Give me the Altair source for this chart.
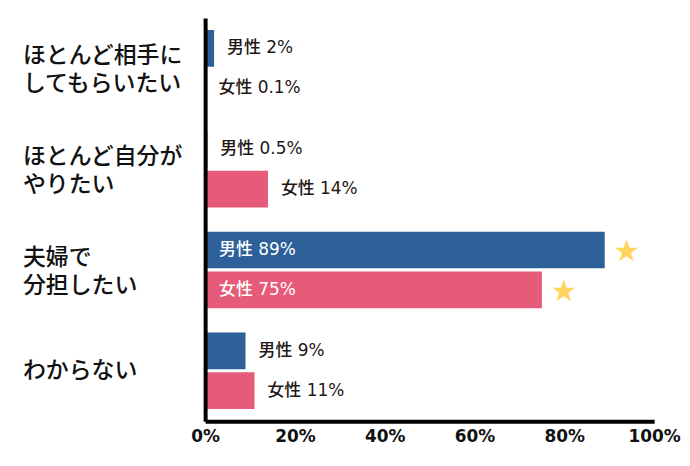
import altair as alt
import pandas as pd

categories = ["ほとんど相手に\nしてもらいたい", "ほとんど自分が\nやりたい", "夫婦で\n分担したい", "わからない"]
sexes = ["男性", "女性"]
male_values = [2, 0.5, 89, 9]
female_values = [0.1, 14, 75, 11]
male_star = [False, False, True, False]
female_star = [False, False, True, False]
x_ticks = [0, 20, 40, 60, 80, 100]

BLUE = "#2d5f98"
PINK = "#e65b7a"
GOLD = "#ffd45a"
FONT = "Noto Sans CJK JP"
MIX = "DejaVu Sans, Noto Sans CJK JP"

rows = []
for i, c in enumerate(categories):
    for s, vals, stars in ((sexes[0], male_values, male_star), (sexes[1], female_values, female_star)):
        v = vals[i]
        rows.append(dict(cat=c, sex=s, value=v, label=f"{s} {v:g}%", star=stars[i]))
df = pd.DataFrame(rows)
cat_df = pd.DataFrame({"cat": categories})

y_enc = alt.Y("cat:N", sort=categories,
              scale=alt.Scale(paddingInner=0.24, paddingOuter=0.12),
              axis=alt.Axis(labels=False, ticks=False, title=None, grid=False,
                            domainColor="black", domainWidth=4, zindex=2))
yoff = alt.YOffset("sex:N", sort=sexes, scale=alt.Scale(paddingInner=0.08))
x_enc = alt.X("value:Q", scale=alt.Scale(domain=[0, 100], nice=False),
              axis=alt.Axis(values=x_ticks, labelExpr="datum.value + '%'", ticks=False,
                            grid=False, domainColor="black", domainWidth=4, zindex=2,
                            labelFontSize=17, labelFont="DejaVu Sans", labelFontWeight="bold",
                            labelColor="#111", labelPadding=7, title=None,
                            labelFlush=False, labelOverlap=False))

base = alt.Chart(df)

bars = base.mark_bar().encode(
    x=x_enc, y=y_enc, yOffset=yoff,
    color=alt.Color("sex:N", scale=alt.Scale(domain=sexes, range=[BLUE, PINK]), legend=None),
)

out_labels = base.transform_filter("datum.value < 50").mark_text(
    align="left", baseline="middle", dx=13, fontSize=17, font=MIX, fontWeight=500, color="#231815"
).encode(x="value:Q", y=y_enc, yOffset=yoff, text="label:N")

in_labels = base.transform_filter("datum.value >= 50").mark_text(
    align="left", baseline="middle", fontSize=17, font=MIX, fontWeight=500, color="white"
).encode(x=alt.value(14), y=y_enc, yOffset=yoff, text="label:N")

stars = base.transform_filter("datum.star").mark_text(
    text="★", align="center", baseline="middle", dx=22, dy=2, fontSize=30,
    font="DejaVu Sans", color=GOLD
).encode(x="value:Q", y=y_enc, yOffset=yoff)

cat_l1 = alt.Chart(cat_df).transform_filter("indexof(datum.cat, '\\n') >= 0").transform_calculate(
    t="split(datum.cat, '\\n')[0]"
).mark_text(
    align="left", baseline="middle", fontSize=23, font=FONT,
    fontWeight=500, color="#111", dy=-12
).encode(x=alt.value(-183), y=y_enc, text="t:N")

cat_l2 = alt.Chart(cat_df).transform_filter("indexof(datum.cat, '\\n') >= 0").transform_calculate(
    t="split(datum.cat, '\\n')[1]"
).mark_text(
    align="left", baseline="middle", fontSize=23, font=FONT,
    fontWeight=500, color="#111", dy=16
).encode(x=alt.value(-183), y=y_enc, text="t:N")

cat_one = alt.Chart(cat_df).transform_filter("indexof(datum.cat, '\\n') < 0").mark_text(
    align="left", baseline="middle", fontSize=23, font=FONT,
    fontWeight=500, color="#111"
).encode(x=alt.value(-183), y=y_enc, text="cat:N")

chart = alt.layer(bars, out_labels, in_labels, stars, cat_l1, cat_l2, cat_one).properties(
    width=451, height=405,
    autosize=alt.AutoSizeParams(type="none"),
    padding={"left": 198, "top": 9, "right": 28, "bottom": 30},
).configure(background="white").configure_view(stroke=None)

chart.save("out.html", embed_options={"renderer": "svg", "actions": False})
